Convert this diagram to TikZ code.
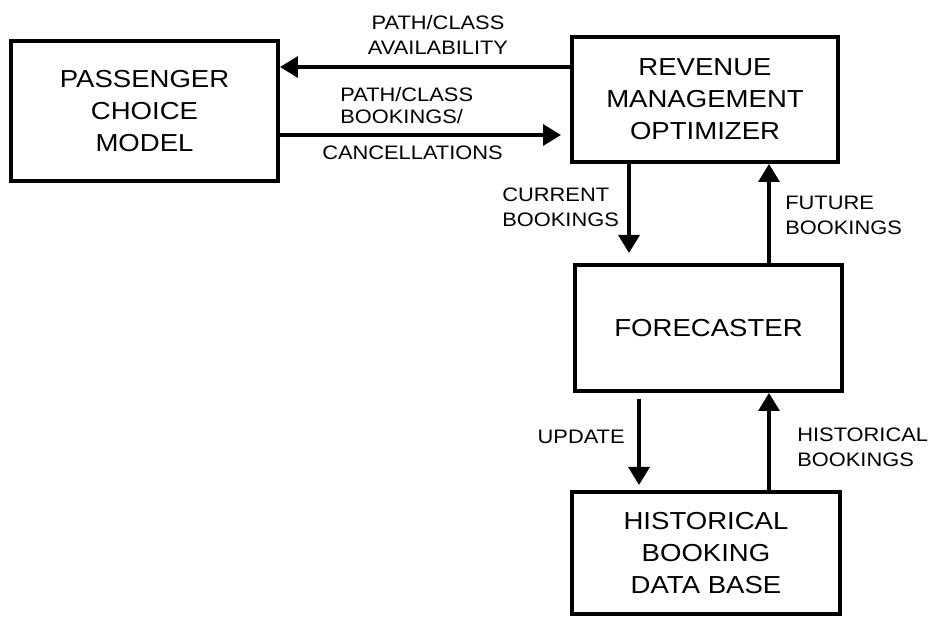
\documentclass[tikz,border=0pt]{standalone}
\usepackage{fontspec}
\setmainfont{Liberation Sans}[FakeStretch=1.12]
\usetikzlibrary{arrows.meta}
\newcommand{\boxfont}{\fontsize{14}{18.2}\selectfont}
\newcommand{\labfont}{\fontsize{11.1}{14.2}\selectfont}
\tikzset{
  block/.style={draw, line width=2.3pt, align=center, font=\boxfont, inner sep=0pt},
  flow/.style={line width=1.9pt, -{Triangle[length=0.36cm,width=0.42cm]}},
  lab/.style={align=left, font=\labfont, inner sep=0pt}
}
\begin{document}
\begin{tikzpicture}[x=0.02cm,y=-0.02cm]
\useasboundingbox (0,0) rectangle (930,617);
\node[block, minimum width=5.34cm, minimum height=2.8cm] (pcm) at (144.5,111) {PASSENGER\\CHOICE\\MODEL};
\node[block, minimum width=5.32cm, minimum height=2.5cm] (rmo) at (705,99.5) {REVENUE\\MANAGEMENT\\OPTIMIZER};
\node[block, minimum width=5.34cm, minimum height=2.52cm] (fc) at (708.5,328) {FORECASTER};
\node[block, minimum width=5.36cm, minimum height=2.44cm] (hbd) at (706,553) {HISTORICAL\\BOOKING\\DATA BASE};
% connectors
\coordinate (av) at ([yshift=0.65cm]rmo.west);
\draw[flow] (av) -- (av -| pcm.east);
\coordinate (bk) at ([yshift=-0.48cm]pcm.east);
\draw[flow, shorten >=0.18cm] (bk) -- (bk -| rmo.west);
\coordinate (cb) at ([xshift=-1.52cm]rmo.south);
\draw[flow, shorten >=0.2cm] (cb) -- (cb |- fc.north);
\coordinate (fb) at ([xshift=1.21cm]fc.north);
\draw[flow] (fb) -- (fb |- rmo.south);
\coordinate (up) at ([xshift=-1.39cm]fc.south);
\draw[flow, shorten <=0.12cm, shorten >=0.1cm] (up) -- (up |- hbd.north);
\coordinate (hb) at ([xshift=1.26cm]hbd.north);
\draw[flow] (hb) -- (hb |- fc.south);
% labels
\node[lab, align=center] (avl) at (438,34.5) {PATH/CLASS\\AVAILABILITY};
\node[lab, anchor=west] (bkl) at (340,106) {PATH/CLASS\\[-1.7pt]BOOKINGS/};
\node[lab] (cnl) at (412.5,153) {CANCELLATIONS};
\node[lab, anchor=west] (cbl) at (502,207.5) {CURRENT\\BOOKINGS};
\node[lab, anchor=west] (fbl) at (785,215) {FUTURE\\BOOKINGS};
\node[lab, anchor=east] (upl) at (625,437) {UPDATE};
\node[lab, anchor=west] (hbl) at (797,447.5) {HISTORICAL\\BOOKINGS};
\end{tikzpicture}
\end{document}
